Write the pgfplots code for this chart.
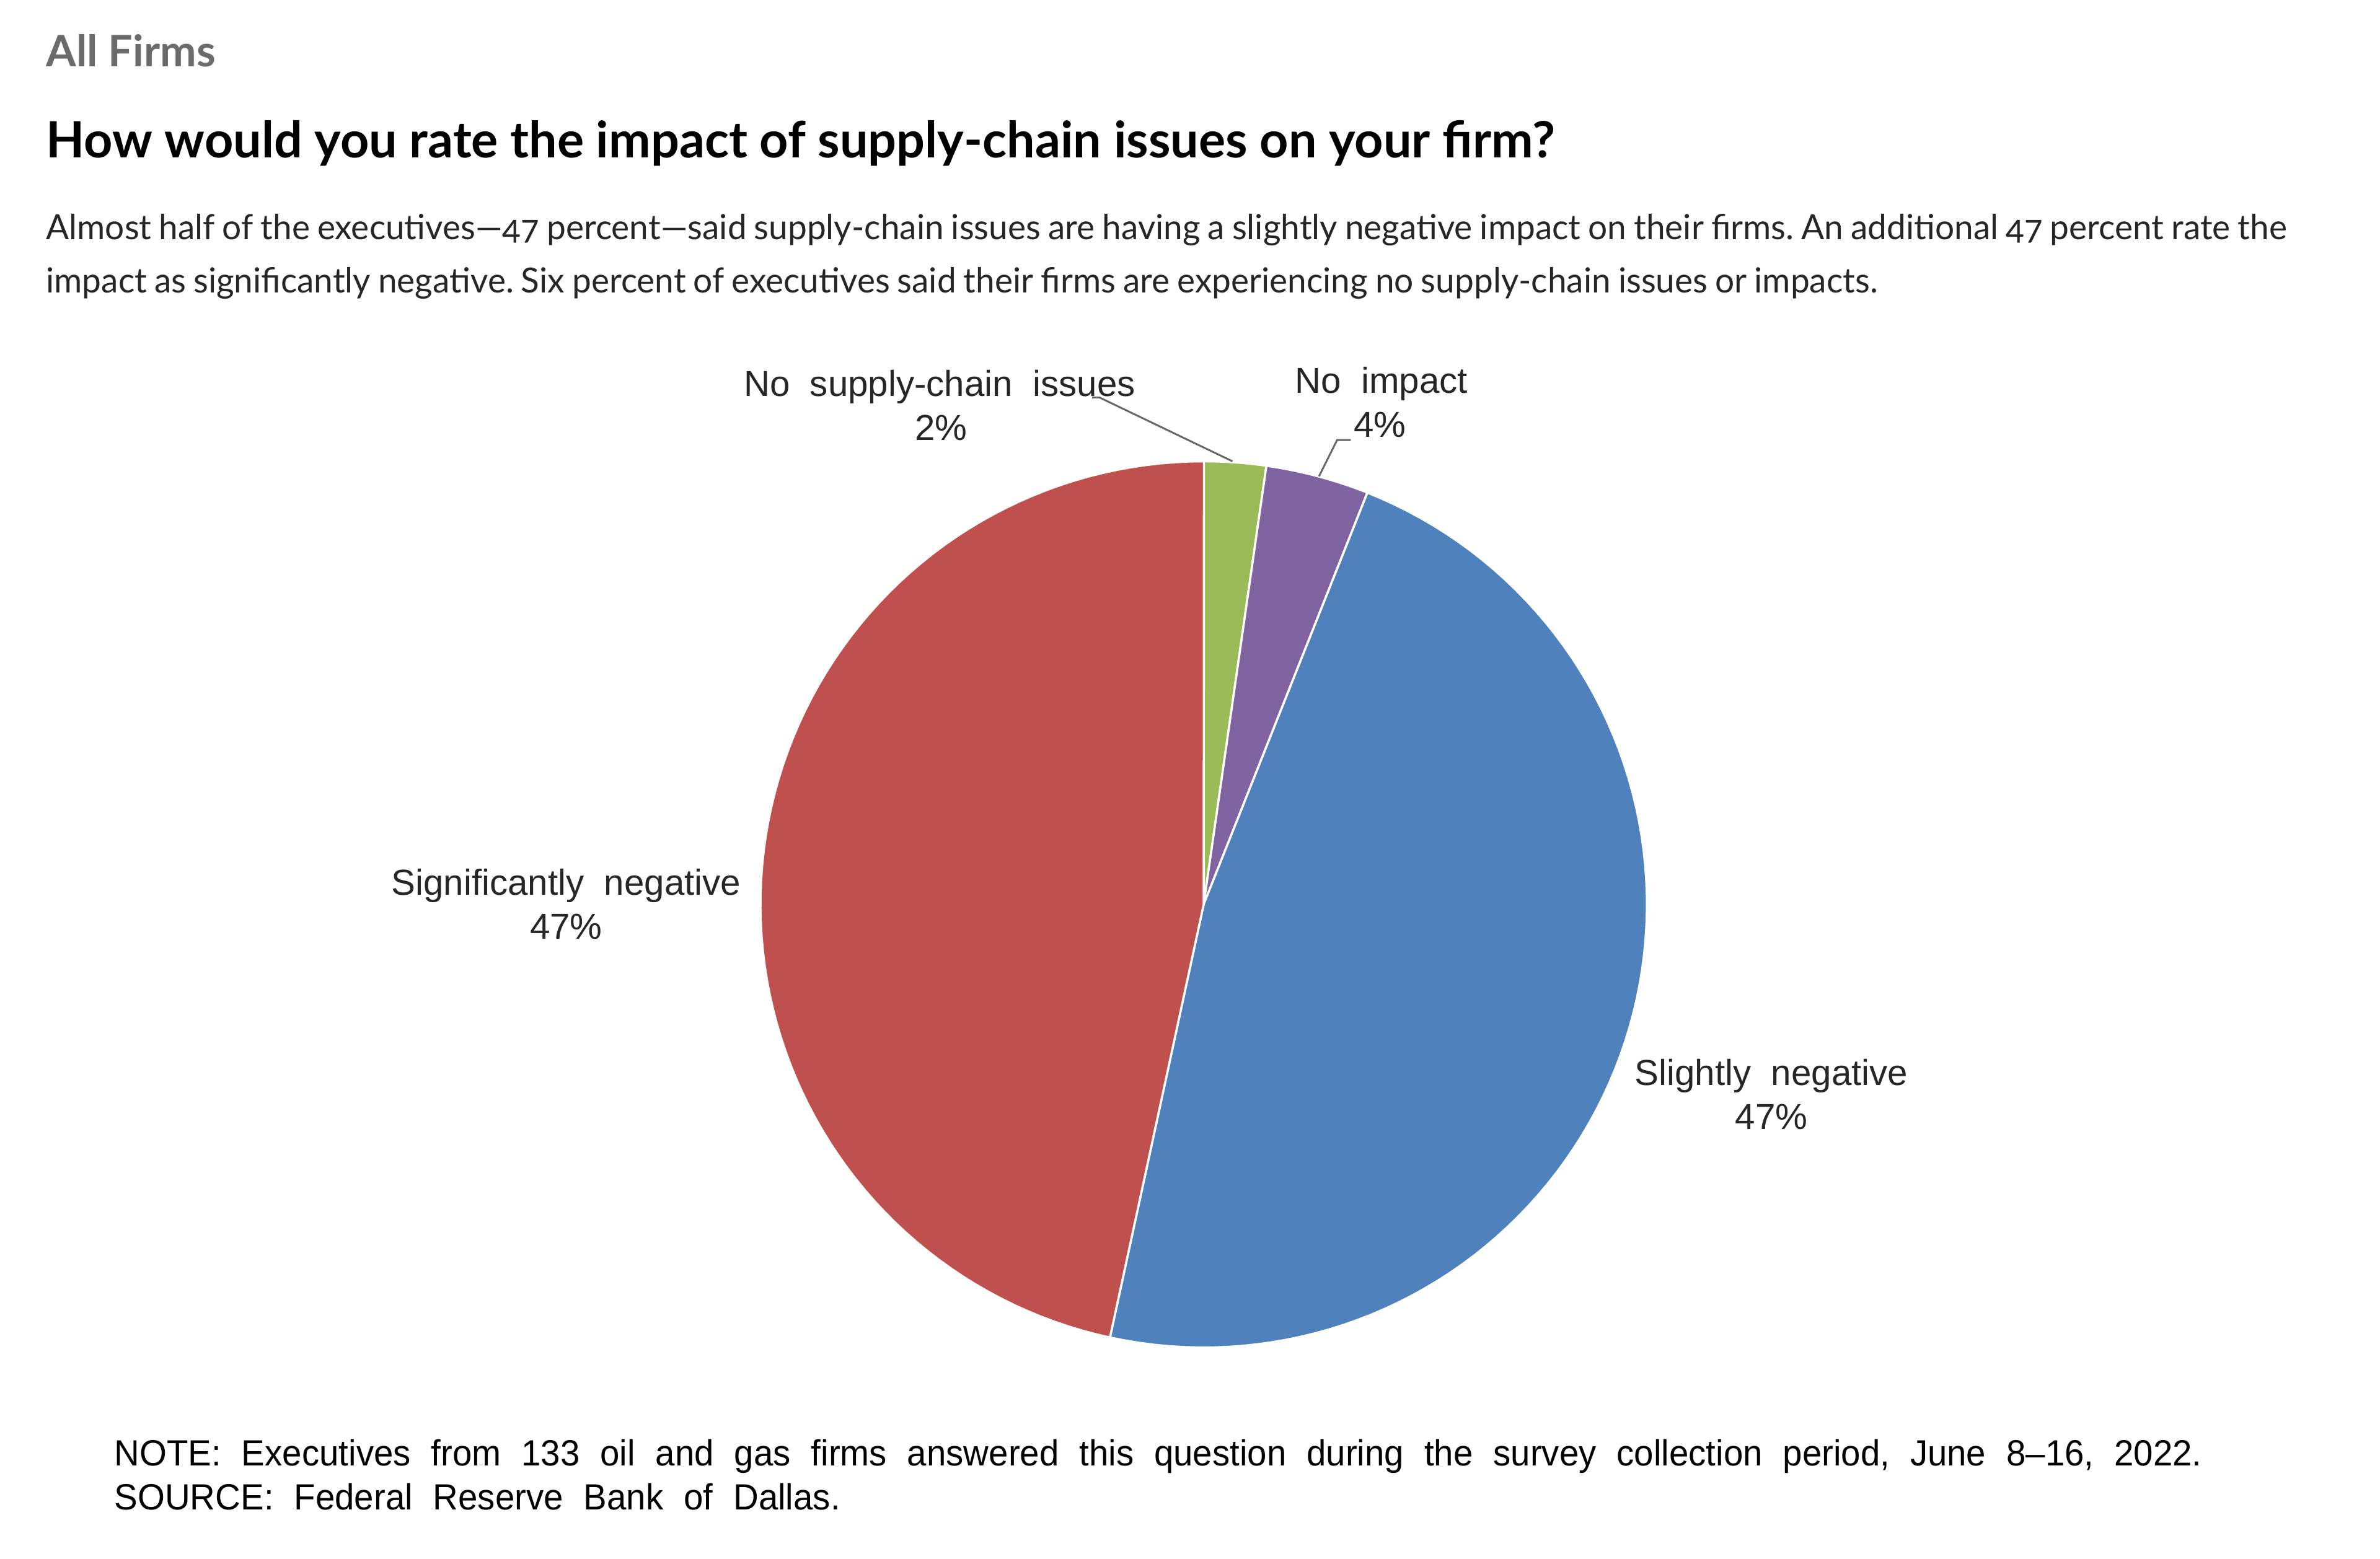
\documentclass[border=0pt]{standalone}
\usepackage{fontspec}
\setmainfont{Liberation Sans}
\newfontfamily\headfont[Numbers=OldStyle]{Lato}
\newfontfamily\bodyfont[Numbers=OldStyle,FakeStretch=0.985,WordSpace=0.85]{Lato}
\newfontfamily\labfont[WordSpace=2]{Liberation Sans}
\newfontfamily\notefont[WordSpace=2.1,FakeStretch=0.96]{Liberation Sans}
\usepackage{pgfplots}
\usepackage{pgfplotstable}
\pgfplotsset{compat=1.18}
\definecolor{pgreen}{HTML}{9BBB59}
\definecolor{ppurple}{HTML}{8064A2}
\definecolor{pblue}{HTML}{4F81BD}
\definecolor{pred}{HTML}{C0504D}
\definecolor{headgray}{HTML}{6B6B6B}

% shares of the 133 answers, clockwise from 12 o'clock
\pgfplotstableread{
share
2.26
3.76
47.37
46.62
}\piedata
\pgfplotstablegetelem{0}{share}\of\piedata \let\sA\pgfplotsretval
\pgfplotstablegetelem{1}{share}\of\piedata \let\sB\pgfplotsretval
\pgfplotstablegetelem{2}{share}\of\piedata \let\sC\pgfplotsretval
\pgfplotstablegetelem{3}{share}\of\piedata \let\sD\pgfplotsretval
\pgfmathsetmacro\aA{90-3.6*\sA}
\pgfmathsetmacro\aB{\aA-3.6*\sB}
\pgfmathsetmacro\aC{\aB-3.6*\sC}
\pgfmathsetmacro\aD{\aC-3.6*\sD}

\begin{document}
\frenchspacing
\begin{tikzpicture}
\begin{scope}[x=0.5pt,y=-0.5pt]
\fill[white] (0,0) rectangle (1568,1027);
\path[use as bounding box] (0,0) rectangle (1568,1027);
\node[anchor=base west,inner sep=0,text=headgray,font=\headfont\bfseries\fontsize{14.3}{16}\selectfont] at (30,44) {All Firms};
\node[anchor=base west,inner sep=0,font=\headfont\bfseries\fontsize{16.5}{19}\selectfont] at (30,104) {How would you rate the impact of supply-chain issues on your firm?};
\node[anchor=base west,inner sep=0,text=black!85,font=\bodyfont\fontsize{11.4}{14}\selectfont] at (30,158) {Almost half of the executives—47 percent—said supply-chain issues are having a slightly negative impact on their firms. An additional 47 percent rate the};
\node[anchor=base west,inner sep=0,text=black!85,font=\bodyfont\fontsize{11.4}{14}\selectfont] at (30,193) {impact as significantly negative. Six percent of executives said their firms are experiencing no supply-chain issues or impacts.};
% slice labels
\begin{scope}[every node/.style={inner sep=0,font=\labfont\fontsize{11.9}{13}\selectfont,text=black!85}]
\node[anchor=base] at (619,261) {No supply-chain issues};
\node[anchor=base] at (620,290) {2\%};
\node[anchor=base] at (910,259) {No impact};
\node[anchor=base] at (909,288) {4\%};
\node[anchor=base] at (373,590) {Significantly negative};
\node[anchor=base] at (373,619) {47\%};
\node[anchor=base] at (1167,715) {Slightly negative};
\node[anchor=base] at (1167,744) {47\%};
\end{scope}
\node[anchor=base west,inner sep=0,font=\notefont\fontsize{12}{14}\selectfont] at (75,966) {NOTE:\ Executives from 133 oil and gas firms answered this question during the survey collection period, June 8–16, 2022.};
\node[anchor=base west,inner sep=0,font=\notefont\fontsize{12}{14}\selectfont] at (75,995) {SOURCE:\ Federal Reserve Bank of Dallas.};
\end{scope}

\begin{axis}[at={(396.5pt,-298pt)},anchor=origin,scale only axis,width=350.4pt,height=350.4pt,
  xmin=-1.2,xmax=1.2,ymin=-1.2,ymax=1.2,hide axis,clip=false,
  every axis plot/.append style={draw=white,line width=0.7pt,samples=90,variable=\t}]
\addplot[fill=pgreen,domain=\aA:90] ({cos(\t)},{sin(\t)}) -- (axis cs:0,0) -- cycle;
\addplot[fill=ppurple,domain=\aB:\aA] ({cos(\t)},{sin(\t)}) -- (axis cs:0,0) -- cycle;
\addplot[fill=pblue,domain=\aC:\aB] ({cos(\t)},{sin(\t)}) -- (axis cs:0,0) -- cycle;
\addplot[fill=pred,domain=\aD:\aC] ({cos(\t)},{sin(\t)}) -- (axis cs:0,0) -- cycle;
% leader lines
\draw[black!60,line width=0.6pt] (axis cs:-0.252,1.144) -- (axis cs:-0.235,1.144) -- (axis cs:0.065,1.0);
\draw[black!60,line width=0.6pt] (axis cs:0.332,1.048) -- (axis cs:0.301,1.048) -- (axis cs:0.26,0.966);
\end{axis}
\end{tikzpicture}
\end{document}
